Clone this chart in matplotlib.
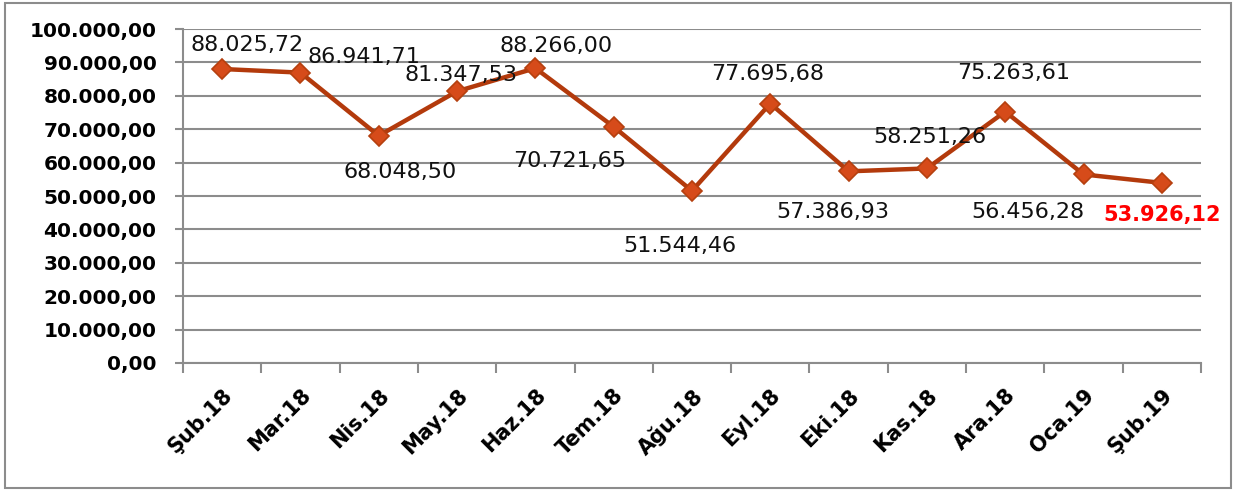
import matplotlib.pyplot as plt
from matplotlib.patches import Rectangle

months = ['Şub.18', 'Mar.18', 'Nis.18', 'May.18', 'Haz.18', 'Tem.18', 'Ağu.18',
          'Eyl.18', 'Eki.18', 'Kas.18', 'Ara.18', 'Oca.19', 'Şub.19']
values = [88025.72, 86941.71, 68048.50, 81347.53, 88266.00, 70721.65, 51544.46,
          77695.68, 57386.93, 58251.26, 75263.61, 56456.28, 53926.12]
yticks = [0, 10000, 20000, 30000, 40000, 50000, 60000, 70000, 80000, 90000, 100000]

# label offsets (pixels) from each marker
label_off = [(25, 24), (64, 16), (21, -36), (4, 16), (21, 22), (-44, -34), (-12, -55),
             (-3, 30), (-16, -41), (3, 31), (8, 39), (-56, -38), (0, -32)]


def tr(v):
    s = f'{v:,.2f}'
    return s.replace(',', 'X').replace('.', ',').replace('X', '.')


fig = plt.figure(figsize=(12.36, 4.90), dpi=100)
ax = fig.add_axes([0.148, 0.2592, 0.8237, 0.6816])

grid_c = '#8c8c8c'
x = list(range(len(months)))
ax.plot(x, values, color='#B33A0C', lw=3.2, marker='D', ms=10,
        mfc='#D64B1A', mec='#B5400F', mew=1.2, zorder=3)

for i, v in enumerate(values):
    dx, dy = label_off[i]
    last = i == len(values) - 1
    ax.annotate(tr(v), (i, v), xytext=(dx, dy), textcoords='offset pixels',
                ha='center', va='center', fontsize=15 if last else 16,
                color='#FF0000' if last else '#111111',
                fontweight='bold' if last else 'normal', zorder=4)

ax.set_xlim(-0.5, len(months) - 0.5)
ax.set_ylim(0, 100000)
ax.set_yticks(yticks)
ax.set_yticklabels([tr(t) for t in yticks], fontsize=14.5, fontweight='bold')
ax.yaxis.grid(True, color=grid_c, lw=1.5)
ax.set_axisbelow(True)

ax.set_xticks(x)
ax.set_xticklabels(months, rotation=45, ha='right', rotation_mode='anchor',
                   fontsize=15, fontweight='bold')
ax.tick_params(axis='x', length=0, pad=16)
ax.set_xticks([i - 0.5 for i in range(len(months) + 1)], minor=True)
ax.tick_params(axis='x', which='minor', length=7, color=grid_c, width=1.5)
ax.tick_params(axis='y', length=6, color=grid_c, width=1.5, pad=13)

for s in ['top', 'right']:
    ax.spines[s].set_visible(False)
for s in ['left', 'bottom']:
    ax.spines[s].set_color(grid_c)
    ax.spines[s].set_linewidth(1.5)

fig.patches.append(Rectangle((0.004, 0.004), 0.992, 0.99, transform=fig.transFigure,
                             fill=False, edgecolor='#8c8c8c', lw=1.5))

fig.savefig('out.png', dpi=100)
